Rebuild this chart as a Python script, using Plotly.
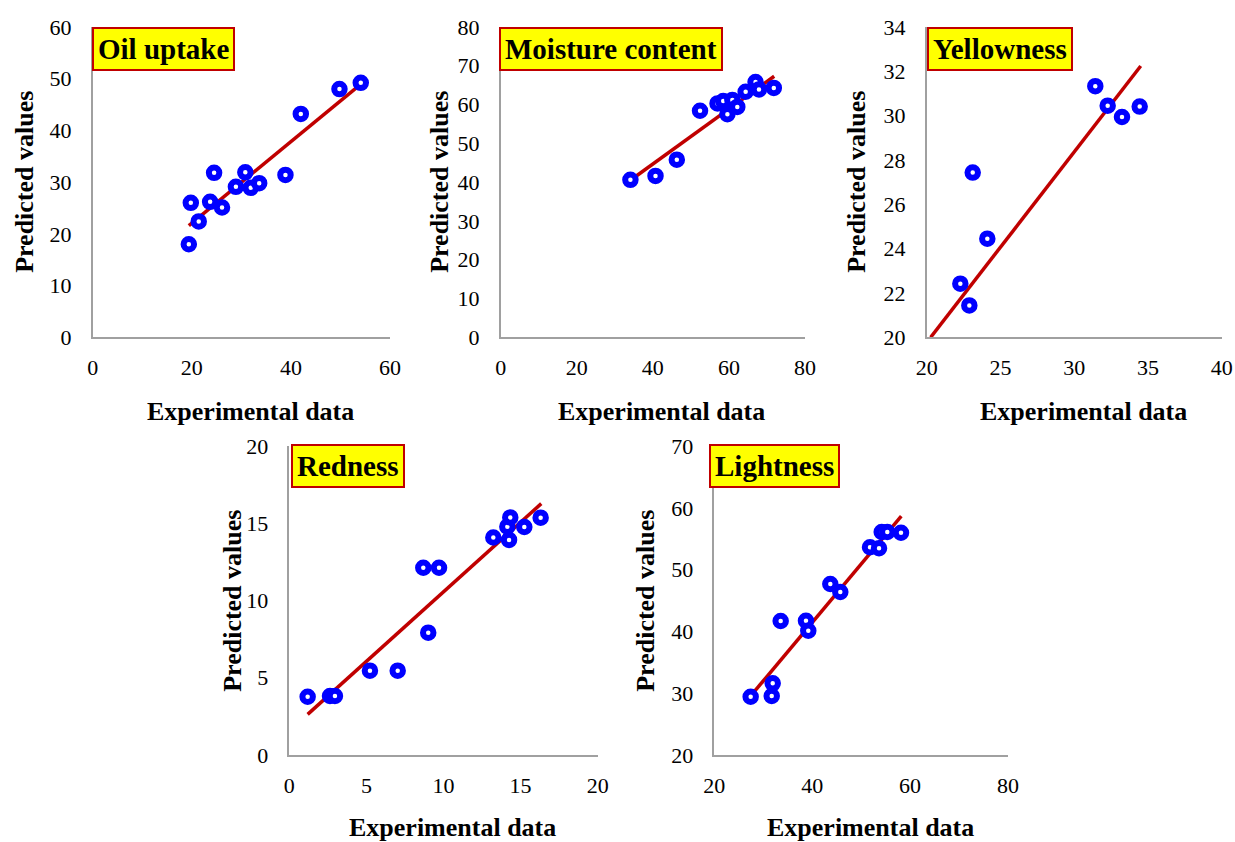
import plotly.graph_objects as go

# ---------------- data ----------------
oil_x = [19.4, 19.8, 21.4, 23.7, 24.5, 26.1, 28.9, 30.8, 31.9, 33.6, 38.9, 42.0, 49.8, 54.1]
oil_y = [18.0, 26.0, 22.4, 26.2, 31.8, 25.1, 29.1, 31.9, 28.9, 29.8, 31.4, 43.2, 48.0, 49.2]
oil_fit_x = [19.4, 54.3]
oil_fit_y = [21.6, 49.1]

moist_x = [34.1, 40.7, 46.3, 52.4, 57.0, 58.5, 59.6, 60.9, 62.2, 64.4, 67.0, 67.9, 71.8]
moist_y = [40.6, 41.6, 45.8, 58.4, 60.3, 60.9, 57.5, 61.2, 59.4, 63.3, 65.8, 63.9, 64.3]
moist_fit_x = [34.1, 71.9]
moist_fit_y = [40.5, 67.3]

yel_x = [22.28, 22.89, 23.12, 24.11, 31.43, 32.27, 33.24, 34.44]
yel_y = [22.42, 21.44, 27.43, 24.45, 31.33, 30.45, 29.94, 30.41]
yel_fit_x = [20.27, 34.51]
yel_fit_y = [20.0, 32.24]

red_x = [1.19, 2.64, 2.96, 5.23, 7.03, 8.69, 9.71, 9.01, 13.23, 14.25, 14.14, 14.33, 15.24, 16.30]
red_y = [3.77, 3.82, 3.82, 5.46, 5.46, 12.12, 12.12, 7.92, 14.08, 13.92, 14.78, 15.38, 14.76, 15.36]
red_fit_x = [1.19, 16.34]
red_fit_y = [2.63, 16.27]

light_x = [27.43, 31.73, 31.93, 33.56, 38.73, 39.20, 43.70, 45.74, 51.81, 53.65, 54.20, 55.34, 58.14]
light_y = [29.43, 29.55, 31.60, 41.68, 41.73, 40.11, 47.67, 46.38, 53.61, 53.45, 56.09, 56.09, 55.97]
light_fit_x = [27.43, 58.20]
light_fit_y = [29.55, 58.67]

titles = ["Oil uptake", "Moisture content", "Yellowness", "Redness", "Lightness"]
x_ranges = [[0, 60], [0, 80], [20, 40], [0, 20], [20, 80]]
x_dticks = [20, 20, 5, 5, 20]
y_ranges = [[0, 60], [0, 80], [20, 34], [0, 20], [20, 70]]
y_dticks = [10, 10, 2, 5, 10]

series = [
    (oil_x, oil_y, oil_fit_x, oil_fit_y),
    (moist_x, moist_y, moist_fit_x, moist_fit_y),
    (yel_x, yel_y, yel_fit_x, yel_fit_y),
    (red_x, red_y, red_fit_x, red_fit_y),
    (light_x, light_y, light_fit_x, light_fit_y),
]

# ---------------- layout geometry ----------------
W, H = 1235, 842
boxes = [  # left, right, top, bottom in page pixels
    (92.7, 390.0, 27.0, 337.3),
    (500.7, 805.0, 27.0, 337.3),
    (926.7, 1221.7, 27.0, 337.3),
    (289.3, 597.7, 446.0, 755.0),
    (714.3, 1008.0, 446.0, 755.0),
]
ytitle_shift = [-69, -62, -71, -57, -69]
xtitle_shift = [-74, -74, -74, -72, -72]
box_xshift = [-1, -2, 0, 2, -5]
box_yshift = [0, 0, 0, 2, 2]

FONT = "Liberation Serif, Times New Roman, serif"
BLUE = "#0000ff"
DARKRED = "#c00000"
AXIS = "#a0a0a0"

fig = go.Figure()
layout = dict(
    template="none",
    width=W, height=H,
    margin=dict(l=0, r=0, t=0, b=0, pad=0),
    paper_bgcolor="white", plot_bgcolor="white",
    showlegend=False,
    font=dict(family=FONT, size=22, color="black"),
)
annotations = []

for i, ((sx, sy, fx, fy), (l, r, t, b)) in enumerate(zip(series, boxes)):
    n = "" if i == 0 else str(i + 1)
    xa, ya = "x" + n, "y" + n
    fig.add_trace(go.Scatter(x=fx, y=fy, mode="lines", xaxis=xa, yaxis=ya,
                             line=dict(color=DARKRED, width=3.5)))
    fig.add_trace(go.Scatter(x=sx, y=sy, mode="markers", xaxis=xa, yaxis=ya,
                             marker=dict(symbol="circle", size=10.5, color="white",
                                         line=dict(color=BLUE, width=6))))
    common = dict(showgrid=False, zeroline=False, showline=True, linecolor=AXIS,
                  linewidth=1.5, ticks="outside", tickcolor="rgba(0,0,0,0)",
                  automargin=False,
                  tickfont=dict(family=FONT, size=22, color="black"))
    layout["xaxis" + n] = dict(domain=[l / W, r / W], anchor=ya, range=x_ranges[i],
                               dtick=x_dticks[i], tick0=x_ranges[i][0], ticklen=10, **common)
    layout["yaxis" + n] = dict(domain=[1 - b / H, 1 - t / H], anchor=xa, range=y_ranges[i],
                               dtick=y_dticks[i], tick0=y_ranges[i][0], ticklen=15, **common)
    # title box
    annotations.append(dict(
        text="<b>" + titles[i] + "</b>", xref=xa + " domain", yref=ya + " domain",
        x=0, y=1, xanchor="left", yanchor="top", showarrow=False,
        xshift=box_xshift[i], yshift=box_yshift[i],
        font=dict(family=FONT, size=29, color="black"),
        bgcolor="#ffff00", bordercolor=DARKRED, borderwidth=2, borderpad=4))
    # axis titles
    annotations.append(dict(
        text="<b>Experimental data</b>", xref=xa + " domain", yref=ya + " domain",
        x=0.5, y=0, xanchor="center", yanchor="middle", xshift=9, yshift=xtitle_shift[i],
        showarrow=False, font=dict(family=FONT, size=26, color="black")))
    annotations.append(dict(
        text="<b>Predicted values</b>", xref=xa + " domain", yref=ya + " domain",
        x=0, y=0.5, xanchor="center", yanchor="middle", xshift=ytitle_shift[i],
        textangle=-90, showarrow=False, font=dict(family=FONT, size=26, color="black")))

layout["annotations"] = annotations
fig.update_layout(**layout)
fig.write_html(
    "out.html",
    config={"displayModeBar": False},
    post_script="document.body.style.margin='0';"
                "document.documentElement.style.overflow='hidden';",
)
